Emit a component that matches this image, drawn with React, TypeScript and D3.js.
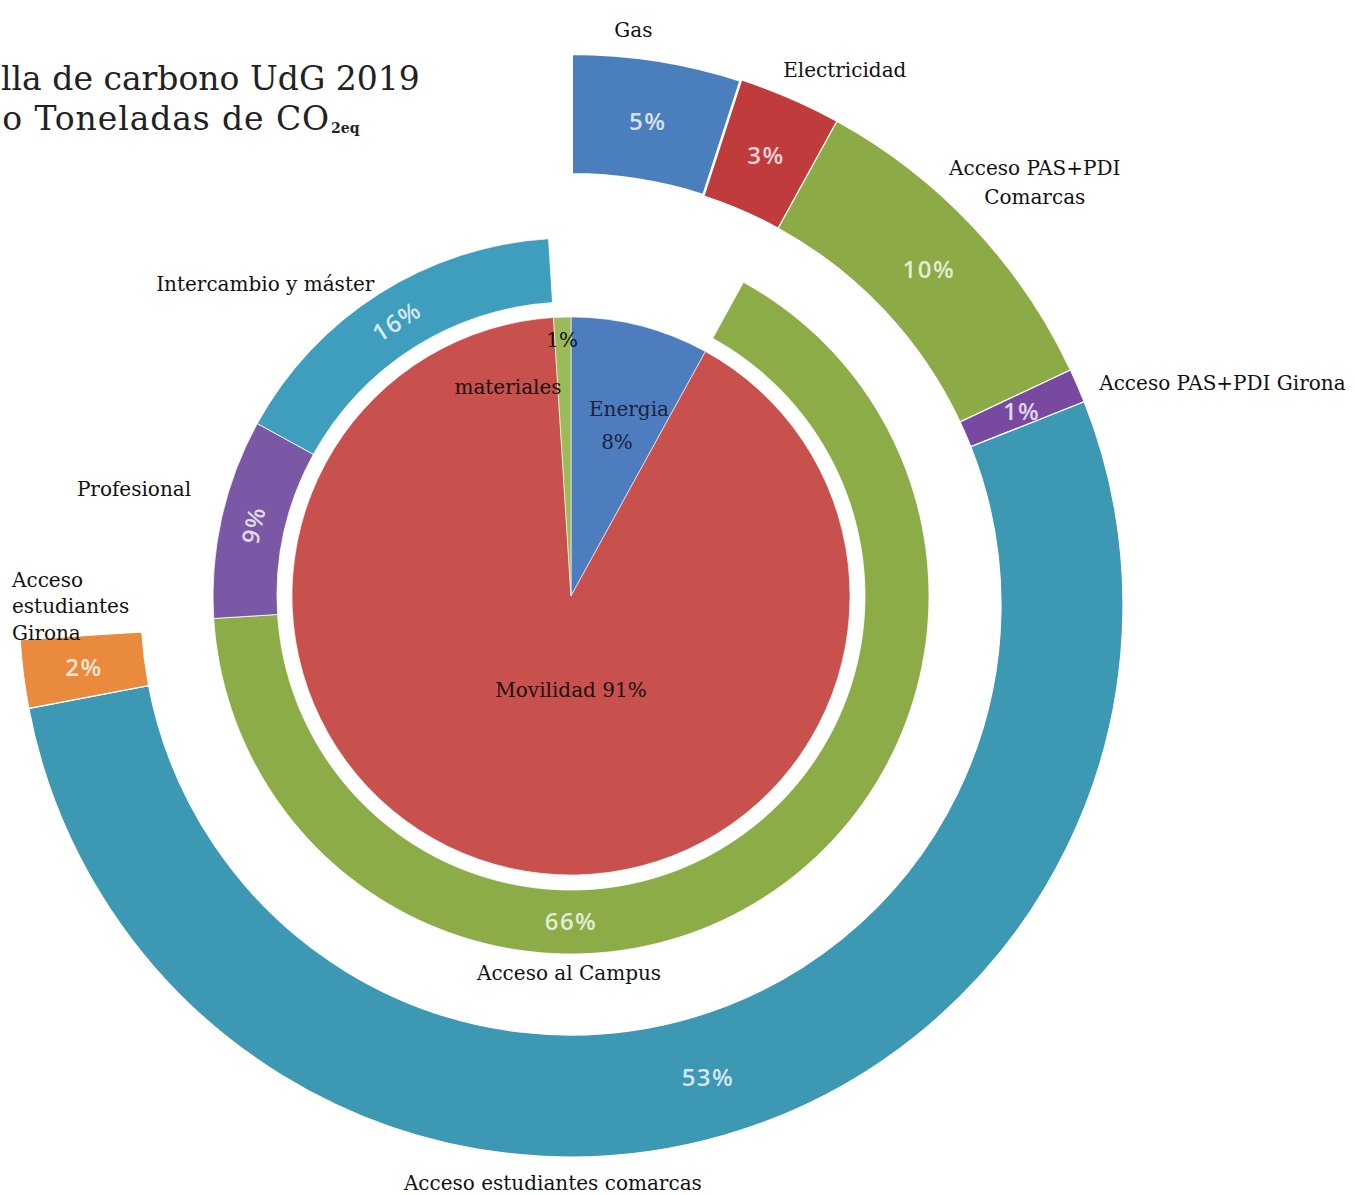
import * as d3 from "d3";

// centre pie (first level)
const innerLabels = ["Energia", "Movilidad", "materiales"];
const innerValues = [8, 91, 1];
const innerColors = ["#4e7dbf", "#c8504d", "#9bbb59"];

// middle ring: empty slots stand for Energia and materiales
const middleLabels = ["", "Acceso al Campus", "Profesional", "Intercambio y máster", ""];
const middleValues = [8, 66, 9, 16, 1];
const middleColors = ["none", "#8bac46", "#7a58a6", "#3f9dbd", "none"];

// outer ring: empty slot covers Profesional + Intercambio + materiales
const outerLabels = [
    "Gas",
    "Electricidad",
    "Acceso PAS+PDI Comarcas",
    "Acceso PAS+PDI Girona",
    "Acceso estudiantes comarcas",
    "Acceso estudiantes Girona",
    "",
];
const outerValues = [5, 3, 10, 1, 53, 2, 26];
const outerColors = ["#4a7ebd", "#c03c3c", "#8cab46", "#7849a0", "#3d98b4", "#e98a3c", "none"];

// title as it shows in the (cropped) original
const titleLines = ["lla de carbono UdG 2019", "o Toneladas de CO"];
const titleSub = "2eq";

const serif = "'DejaVu Serif', serif";
const sans = "'Open Sans', sans-serif";

export default function App() {
    const width = 1355;
    const height = 1195;
    const cx = 571;
    const cy = 596;
    const outerCy = 605;

    const pieR = 279;
    const midIn = 294;
    const midOut = 358;
    const outIn = 430;
    const outOut = 552;

    const labelSize = 20;
    const pctSize = 24;

    const pie = d3.pie<number>().sort(null).value((d) => d);
    const innerArcs = pie(innerValues);
    const middleArcs = pie(middleValues);
    const outerArcs = pie(outerValues);

    const innerArc = d3.arc<d3.PieArcDatum<number>>().innerRadius(0).outerRadius(pieR);
    const middleArc = d3.arc<d3.PieArcDatum<number>>().innerRadius(midIn).outerRadius(midOut);
    const outerArc = d3.arc<d3.PieArcDatum<number>>().innerRadius(outIn).outerRadius(outOut);

    const rad = (deg: number) => (deg * Math.PI) / 180;
    const polar = (deg: number, r: number) => d3.pointRadial(rad(deg), r);
    const midDeg = (a: d3.PieArcDatum<number>) => (((a.startAngle + a.endAngle) / 2) * 180) / Math.PI;

    // name label placement (angle in degrees clockwise from top, radius)
    const outerNamePos: [number, number][] = [
        [6.2, 578],
        [27.1, 601],
        [47.6, 628],
        [67.2, 573],
        [181.8, 578],
        [269.8, 559],
    ];
    const middleNamePos: Record<string, [number, number]> = {
        "Acceso al Campus": [180.3, 377],
        Profesional: [283.8, 450],
        "Intercambio y máster": [315.6, 437],
    };

    const pctFill = "#ffffff";
    const pctOpacity = 0.78;

    return (
        <svg
            width={width}
            height={height}
            viewBox={`0 0 ${width} ${height}`}
            style={{ position: "absolute", left: 0, top: 0, background: "#fff" }}
        >
            <rect x={0} y={0} width={width} height={height} fill="#fff" />

            <text x={1} y={90} fontFamily={serif} fontSize={33} fill="#222">
                {titleLines[0]}
            </text>
            <text x={330} y={130} textAnchor="end" fontFamily={serif} fontSize={33} letterSpacing={0.9} fill="#222">
                {titleLines[1]}
            </text>
            <text x={331} y={133} fontFamily={serif} fontSize={14} fontWeight={700} fill="#222">
                {titleSub}
            </text>

            {/* outer ring */}
            <g transform={`translate(${cx},${outerCy})`}>
                {outerArcs.map((a, i) =>
                    outerLabels[i] ? (
                        <path key={i} d={outerArc(a) ?? ""} fill={outerColors[i]} stroke="#fff" strokeWidth={i === 0 ? 4 : 1.2} />
                    ) : null
                )}
                {outerArcs.map((a, i) => {
                    if (!outerLabels[i]) return null;
                    const [x, y] = outerArc.centroid(a);
                    return (
                        <text
                            key={"p" + i}
                            x={x}
                            y={y}
                            textAnchor="middle"
                            dominantBaseline="central"
                            fontFamily={sans}
                            fontWeight={600}
                            fontSize={pctSize}
                            letterSpacing={1.5}
                            fill={pctFill}
                            fillOpacity={pctOpacity}
                        >
                            {`${outerValues[i]}%`}
                        </text>
                    );
                })}
                {outerNamePos.map(([deg, r], i) => {
                    const [x, y] = polar(deg, r);
                    const label = outerLabels[i];
                    if (i === 2) {
                        return (
                            <text key={"n" + i} x={x} y={y} textAnchor="middle" fontFamily={serif} fontSize={labelSize} fill="#111">
                                <tspan x={x} dy={-7}>Acceso PAS+PDI</tspan>
                                <tspan x={x} dy={29}>Comarcas</tspan>
                            </text>
                        );
                    }
                    if (i === 5) {
                        return (
                            <text key={"n" + i} x={x} y={y} textAnchor="start" fontFamily={serif} fontSize={labelSize} fill="#111">
                                <tspan x={x} dy={-20}>Acceso</tspan>
                                <tspan x={x} dy={26}>estudiantes</tspan>
                                <tspan x={x} dy={27}>Girona</tspan>
                            </text>
                        );
                    }
                    return (
                        <text
                            key={"n" + i}
                            x={x}
                            y={y}
                            textAnchor={i === 3 ? "start" : "middle"}
                            dominantBaseline="central"
                            fontFamily={serif}
                            fontSize={labelSize}
                            fill="#111"
                        >
                            {label}
                        </text>
                    );
                })}
            </g>

            {/* middle ring */}
            <g transform={`translate(${cx},${cy})`}>
                {middleArcs.map((a, i) =>
                    middleLabels[i] ? (
                        <path key={i} d={middleArc(a) ?? ""} fill={middleColors[i]} stroke="#fff" strokeWidth={0.8} />
                    ) : null
                )}
                {middleArcs.map((a, i) => {
                    if (!middleLabels[i]) return null;
                    const big = middleValues[i] > 50;
                    const deg = big ? 180 : midDeg(a);
                    const [x, y] = polar(deg, big ? 324 : (midIn + midOut) / 2);
                    const rot = big ? 0 : deg - 360;
                    return (
                        <text
                            key={"p" + i}
                            transform={`translate(${x},${y}) rotate(${rot})`}
                            textAnchor="middle"
                            dominantBaseline="central"
                            fontFamily={sans}
                            fontWeight={600}
                            fontSize={pctSize}
                            letterSpacing={1.5}
                            fill={pctFill}
                            fillOpacity={pctOpacity}
                        >
                            {`${middleValues[i]}%`}
                        </text>
                    );
                })}
                {middleLabels.map((label, i) => {
                    if (!label) return null;
                    const [deg, r] = middleNamePos[label];
                    const [x, y] = polar(deg, r);
                    return (
                        <text key={"n" + i} x={x} y={y} textAnchor="middle" dominantBaseline="central" fontFamily={serif} fontSize={labelSize} fill="#111">
                            {label}
                        </text>
                    );
                })}

                {/* centre pie */}
                {innerArcs.map((a, i) => (
                    <path key={"i" + i} d={innerArc(a) ?? ""} fill={innerColors[i]} stroke="#fff" strokeWidth={0.6} />
                ))}
                {(() => {
                    const [mx, my] = polar(180, 94);
                    const [ex, ey] = polar(17.2, 196);
                    const [px, py] = polar(16.6, 161);
                    const [tx, ty] = polar(343.2, 218);
                    const [ox, oy] = polar(358, 256);
                    const common = { textAnchor: "middle" as const, dominantBaseline: "central" as const, fontFamily: serif, fontSize: labelSize };
                    return (
                        <g>
                            <text x={mx} y={my} {...common} fill="#1a1010">
                                {`${innerLabels[1]} ${innerValues[1]}%`}
                            </text>
                            <text x={ex} y={ey} {...common} fill="#1a2240">
                                {innerLabels[0]}
                            </text>
                            <text x={px} y={py} {...common} fill="#1a2240">
                                {`${innerValues[0]}%`}
                            </text>
                            <text x={tx} y={ty} {...common} fill="#1a1010">
                                {innerLabels[2]}
                            </text>
                            <text x={ox} y={oy} {...common} fill="#111">
                                {`${innerValues[2]}%`}
                            </text>
                        </g>
                    );
                })()}
            </g>
        </svg>
    );
}
